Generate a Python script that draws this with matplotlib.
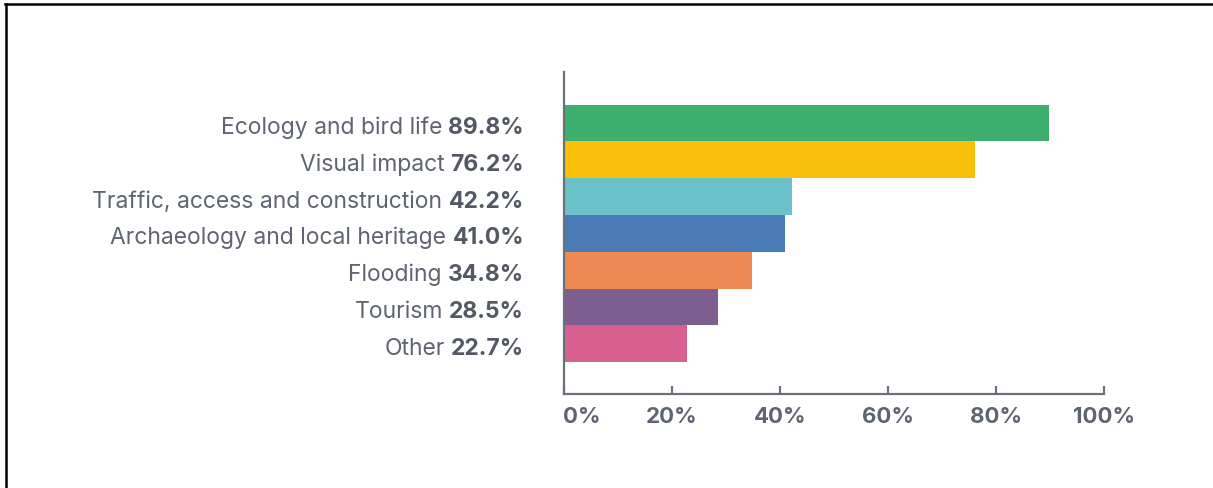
import matplotlib
matplotlib.use("Agg")
import matplotlib.pyplot as plt
import matplotlib.transforms as mtransforms
from matplotlib.lines import Line2D

categories = [
    "Ecology and bird life",
    "Visual impact",
    "Traffic, access and construction",
    "Archaeology and local heritage",
    "Flooding",
    "Tourism",
    "Other",
]
values = [89.8, 76.2, 42.2, 41.0, 34.8, 28.5, 22.7]
colors = ["#3daf6e", "#f9bf0a", "#6cc2c9", "#4b7bb5", "#ee8953", "#7e5e91", "#d86090"]
xticks = [0, 20, 40, 60, 80, 100]

text_grey = "#5f6570"
value_grey = "#535963"
axis_grey = "#6b7079"

plt.rcParams["font.family"] = ["Inter", "DejaVu Sans"]

fig = plt.figure(figsize=(12.13, 4.89), dpi=100)
ax = fig.add_axes([564 / 1213, 94 / 489, 540 / 1213, 322 / 489])

y = list(range(len(categories)))
ax.barh(y, values, height=1.0, color=colors, linewidth=0)

ax.set_xlim(0, 100)
ax.set_ylim(7.37, -1.39)

for side in ["top", "right"]:
    ax.spines[side].set_visible(False)
for side in ["left", "bottom"]:
    ax.spines[side].set_color(axis_grey)
    ax.spines[side].set_linewidth(1.6)

ax.set_yticks([])
ax.set_xticks(xticks)
ax.set_xticklabels([f"{t}%" for t in xticks], fontsize=16, fontweight="bold", color=text_grey)
ax.tick_params(axis="x", direction="in", length=6, width=1.6, color=axis_grey, pad=9)
# first label sits to the right of the zero tick
lbl0 = ax.get_xticklabels()[0]
lbl0.set_horizontalalignment("left")
lbl0.set_transform(lbl0.get_transform() + mtransforms.ScaledTranslation(-0.01, 0, fig.dpi_scale_trans))

# category labels: regular name followed by bold value, right-aligned left of the axis
base = mtransforms.blended_transform_factory(ax.transAxes, ax.transData)
shift = mtransforms.ScaledTranslation(-40 / 100, -10 / 100, fig.dpi_scale_trans)
for i, (cat, val) in enumerate(zip(categories, values)):
    vt = ax.text(0, i, f"{val:.1f}%", transform=base + shift, ha="right", va="baseline",
                 fontsize=16.5, fontweight="bold", color=value_grey)
    ax.annotate(cat, xy=(0, 0), xycoords=vt, xytext=(-4.5, 0), textcoords="offset points",
                ha="right", va="bottom", fontsize=16.5, color=text_grey)

# outer frame
fig.add_artist(Line2D([5 / 1213, 1.0], [1 - 5 / 489, 1 - 5 / 489], transform=fig.transFigure,
                      color="black", lw=1.8))
fig.add_artist(Line2D([6 / 1213, 6 / 1213], [0, 1 - 5 / 489], transform=fig.transFigure,
                      color="black", lw=1.8))

fig.savefig("out.png", dpi=100, facecolor="white")
